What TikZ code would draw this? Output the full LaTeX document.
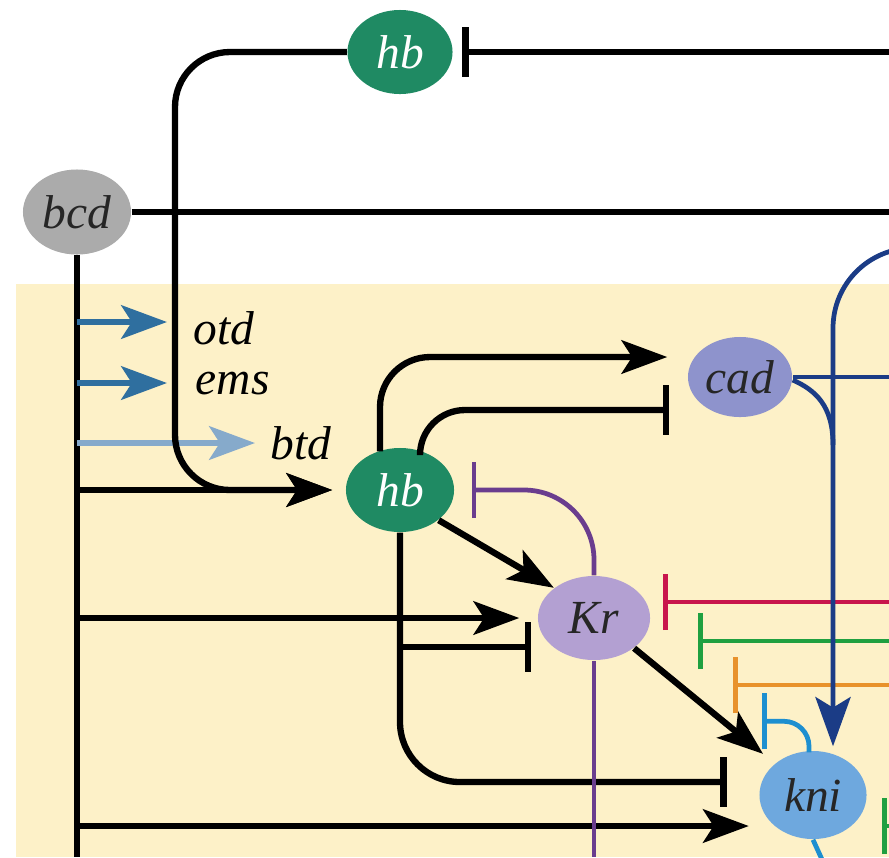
\documentclass[tikz,border=0pt]{standalone}
\usepackage{fontspec}
\setmainfont{Liberation Serif}
\usetikzlibrary{arrows.meta,calc,shapes.geometric}
\definecolor{paper}{HTML}{FDF1C8}
\definecolor{hbg}{HTML}{1F8A63}
\definecolor{bcdg}{HTML}{ABABAB}
\definecolor{cadc}{HTML}{8E93CC}
\definecolor{krc}{HTML}{B3A0D2}
\definecolor{knic}{HTML}{6EA8DE}
\definecolor{tfblue}{HTML}{2F6F9F}
\definecolor{btdblue}{HTML}{86AACB}
\definecolor{krline}{HTML}{6A3D8E}
\definecolor{redl}{HTML}{C8164C}
\definecolor{greenl}{HTML}{1FA040}
\definecolor{orangel}{HTML}{E8922B}
\definecolor{knil}{HTML}{1D8FD0}
\definecolor{cadl}{HTML}{1B3C86}

\begin{document}
\begin{tikzpicture}[x=0.01cm,y=-0.01cm,
  gene/.style={ellipse,inner sep=0pt,font=\fontsize{13.5}{16}\selectfont\itshape},
  lab/.style={inner sep=0pt,anchor=west,font=\fontsize{13.5}{16}\selectfont\itshape},
  wire/.style={line width=1.8pt},
  act/.style={wire,-{Stealth[length=13pt,width=9.5pt,inset=3pt]}},
  inh/.style={wire,-{Bar[width=14pt]}},
  thin/.style={line width=1.35pt},
  blueact/.style={wire,draw=#1,-{Stealth[length=13pt,width=9.5pt,inset=3pt]}},
  colinh/.style={thin,draw=#1,-{Bar[width=16pt]}}]
\clip (0,0) rectangle (889,857);
% embryo background
\fill[paper] (16,284) rectangle (889,857);
\coordinate (bot) at (0,857);
\coordinate (rgt) at (889,0);
% genes
\node[gene,fill=hbg,text=white,minimum width=1.05cm,minimum height=0.84cm] (hbtop) at (400,52) {hb};
\node[gene,fill=bcdg,text=black!85,minimum width=1.08cm,minimum height=0.85cm] (bcd) at (77,212) {bcd};
\node[gene,fill=cadc,text=black!85,minimum width=1.04cm,minimum height=0.80cm] (cad) at (740,377) {cad};
\node[gene,fill=hbg,text=white,minimum width=1.08cm,minimum height=0.84cm] (hbmid) at (400,490) {hb};
\node[gene,fill=krc,text=black!85,minimum width=1.12cm,minimum height=0.84cm] (Kr) at (594,618) {Kr};
\node[gene,fill=knic,text=black!85,minimum width=1.07cm,minimum height=0.88cm] (kni) at (813,795) {kni};
\node[lab] (otd) at (193,328) {otd};
\node[lab] (ems) at (195,384) {ems};
\node[lab] (btd) at (270,443) {btd};
% bcd spine and its targets
\draw[wire] (bcd.south) -- (bcd.south |- bot);
\draw[wire] (bcd.east) -- (bcd.east -| rgt);
\draw[blueact=tfblue] (bcd.south |- 0,322) -- ($(otd.west)+(-26,-6)$);
\draw[blueact=tfblue] (bcd.south |- 0,383) -- ($(ems.west)+(-28,-1)$);
\draw[blueact=btdblue] (bcd.south |- btd.west) -- ($(btd.west)+(-15,0)$);
\draw[act,shorten >=0.13cm] (bcd.south |- hbmid.west) -- (hbmid.west);
\draw[act,shorten >=0.18cm] (bcd.south |- Kr.west) -- (Kr.west);
\coordinate (kniIn) at ($(kni.west)+(-10,31)$);
\draw[act] (bcd.south |- kniIn) -- (kniIn);
% maternal hb
\draw[inh,shorten >=0.09cm] (hbtop.east -| rgt) -- (hbtop.east);
\coordinate (hbbend) at (175,0);
\draw[act,rounded corners=0.55cm,shorten >=0.13cm] (hbtop.west) -- (hbtop.west -| hbbend) -- (hbbend |- hbmid.west) -- (hbmid.west);
% zygotic hb
\draw[act,rounded corners=0.5cm,shorten >=0.2cm] ($(hbmid.north)+(-20,4)$) |- ($(cad.west)+(0,-20)$);
\draw[inh,rounded corners=0.45cm,shorten >=0.18cm] ($(hbmid.north)+(20,4)$) |- ($(cad.west)+(0,33)$);
\draw[act] (hbmid.south east) -- (Kr.north west);
\coordinate (KrT) at ($(Kr.west)+(-6,29)$);
\draw[inh] (hbmid.south |- KrT) -- (KrT);
\draw[inh,rounded corners=0.6cm] (hbmid.south) |- ($(kni.west)+(-32,-13)$);
% Kr
\draw[colinh=krline,rounded corners=0.7cm] (Kr.north) |- ($(hbmid.east)+(17,0)$);
\draw[thin,krline] (Kr.south) -- (Kr.south |- bot);
\draw[act,shorten >=0.15cm] (Kr.south east) -- (kni.north west);
% repressors coming from the right
\coordinate (redT) at ($(Kr.east)+(12,-16)$);
\coordinate (greenT) at ($(Kr.east)+(47,23)$);
\coordinate (orangeT) at ($(Kr.east)+(82,67)$);
\draw[colinh=redl] (redT -| rgt) -- (redT);
\draw[colinh=greenl] (greenT -| rgt) -- (greenT);
\draw[colinh=orangel] (orangeT -| rgt) -- (orangeT);
\coordinate (grT) at (882,826);
\draw[colinh=greenl] (grT -| rgt) -- (grT);
% cad
\coordinate (cadbus) at (833,248);
\draw[thin,cadl,rounded corners=0.8cm,-{Stealth[length=14pt,width=10pt,inset=3pt]}] ($(cadbus)+(120,0)$) -- (cadbus) -- ($(cadbus |- kni.north)+(0,-4)$);
\draw[thin,cadl] (cad.east) -- (cad.east -| rgt);
\draw[thin,cadl] ($(cad.east)+(0,3)$) .. controls (815,390) and (833,405) .. (833,445);
% kni
\draw[colinh=knil,rounded corners=0.25cm] ($(kni.north)+(-4,2)$) |- ($(kni.north)+(-51,-29)$);
\coordinate (kniOut) at ($(kni.south)+(10,22)$);
\draw[thin,knil] (kni.south) -- (kniOut);
\end{tikzpicture}
\end{document}
